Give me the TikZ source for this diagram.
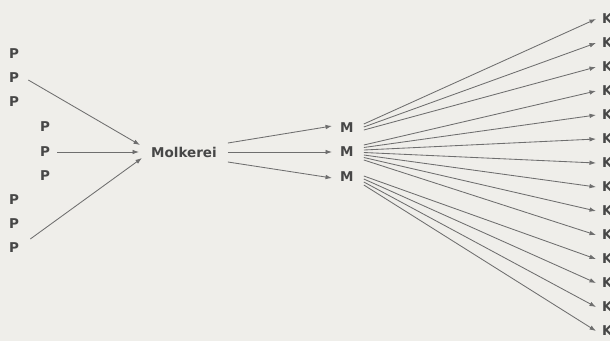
\documentclass[tikz,border=0pt]{standalone}
\usepackage{fontspec}
\setmainfont{DejaVu Sans}
\usetikzlibrary{arrows.meta}
\definecolor{bg}{HTML}{EFEEEA}
\definecolor{txt}{HTML}{474747}
\definecolor{ln}{HTML}{6E6E6E}
\tikzset{
  lab/.style={font=\bfseries\fontsize{13.5}{16}\selectfont, text=txt, inner sep=0pt,
    text height=9.8pt, text depth=0pt, anchor=west},
  arr/.style={draw=ln, line width=0.85pt, -{Latex[length=6.5pt,width=4.6pt]}}
}
\begin{document}
\begin{tikzpicture}[x=1pt,y=-1pt]
\fill[bg] (0,0) rectangle (610,341);
\useasboundingbox (0,0) rectangle (610,341);
% producers
\node[lab] (p1) at (9,54) {P};
\node[lab] (p2) at (9,78) {P};
\node[lab] (p3) at (9,102) {P};
\node[lab] (p4) at (40,127) {P};
\node[lab] (p5) at (40,152) {P};
\node[lab] (p6) at (40,176) {P};
\node[lab] (p7) at (9,200) {P};
\node[lab] (p8) at (9,224) {P};
\node[lab] (p9) at (9,248) {P};
% dairy
\node[lab] (molk) at (151,153) {Molkerei};
% M
\node[lab] (m1) at (340,128) {M};
\node[lab] (m2) at (340,152) {M};
\node[lab] (m3) at (340,177) {M};
% K
\foreach \i in {1,...,14}{
  \node[lab] (k\i) at (602,{19+24*(\i-1)}) {K};
}
% P -> Molkerei
\draw[arr] ([xshift=9pt,yshift=-2pt]p2.east) -- ([xshift=-11pt,yshift=8pt]molk.west);
\draw[arr] ([xshift=7pt]p5.east) -- ([xshift=-12pt,yshift=1pt]molk.west);
\draw[arr] ([xshift=11pt,yshift=9pt]p9.east) -- ([xshift=-9pt,yshift=-5pt]molk.west);
% Molkerei -> M
\draw[arr] ([xshift=11pt,yshift=10pt]molk.east) -- ([xshift=-8pt,yshift=2pt]m1.west);
\draw[arr] ([xshift=11pt,yshift=1pt]molk.east) -- ([xshift=-8pt]m2.west);
\draw[arr] ([xshift=11pt,yshift=-9pt]molk.east) -- ([xshift=-8pt,yshift=-1pt]m3.west);
% M -> K
\foreach \k/\s in {1/4,2/1,3/-2}{
  \draw[arr] ([xshift=10pt,yshift=\s pt]m1.east) -- ([xshift=-6pt]k\k.west);
}
\foreach \k/\s in {4/7,5/4.5,6/2,7/-0.5,8/-3,9/-5.5,10/-8}{
  \draw[arr] ([xshift=10pt,yshift=\s pt]m2.east) -- ([xshift=-6pt]k\k.west);
}
\foreach \k/\s in {11/1,12/-2,13/-5,14/-8}{
  \draw[arr] ([xshift=10pt,yshift=\s pt]m3.east) -- ([xshift=-6pt]k\k.west);
}
\end{tikzpicture}
\end{document}
